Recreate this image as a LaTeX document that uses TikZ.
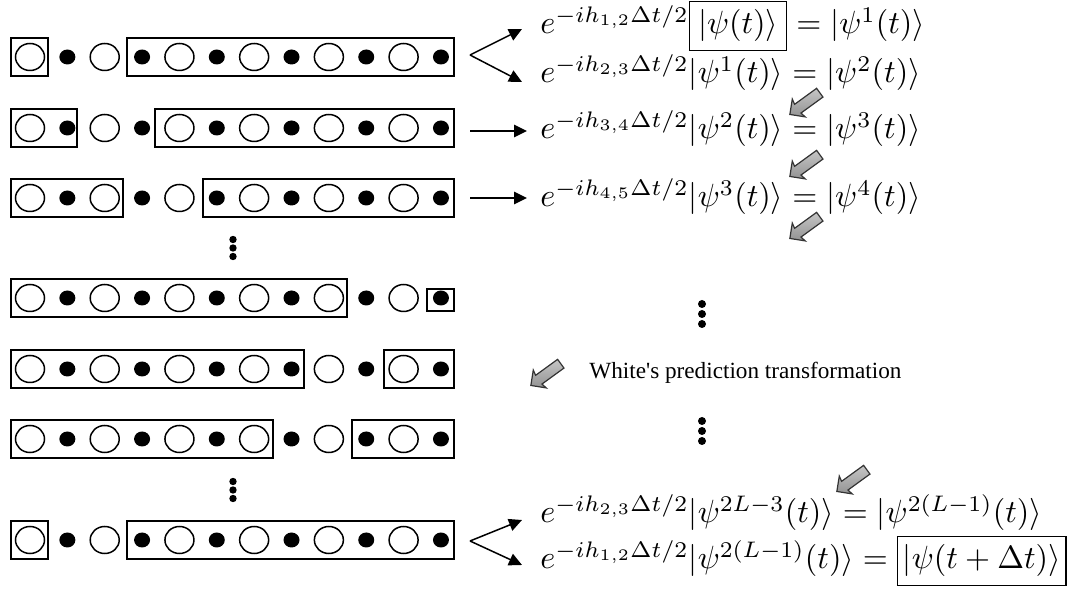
\documentclass[tikz,border=0pt]{standalone}
\usepackage[no-math]{fontspec}
\usepackage{graphicx}
\usetikzlibrary{shapes.geometric,shapes.arrows,arrows.meta}
\newfontfamily\tnr{Liberation Serif}[Ligatures=TeXOff]
\setlength{\fboxsep}{2.4pt}
\setlength{\fboxrule}{0.48pt}
\newcommand{\eqsc}[1]{\scalebox{1.607}{#1}}
\tikzset{
  site/.style={draw, ellipse, inner sep=0pt, minimum width=14.5pt, minimum height=13.5pt, line width=0.75pt},
  spin/.style={fill, ellipse, inner sep=0pt, minimum width=8pt, minimum height=7.5pt},
  grp/.style={draw, line width=0.8pt},
  eq/.style={anchor=base west, inner sep=0pt, font=\fontsize{10}{12}\selectfont},
  conn/.style={line width=0.75pt, -{Triangle[length=6.5pt,width=6.2pt]}},
  garrow/.style={single arrow, draw=black!80, top color=gray!45, bottom color=gray!85, line width=0.6pt,
    inner xsep=0pt, inner ysep=2.4pt, minimum height=18.5pt, single arrow head extend=2.8pt,
    single arrow head indent=0.6pt, rotate=216},
}
\begin{document}
\begin{tikzpicture}[x=0.5pt,y=-0.5pt]
\useasboundingbox (0,0) rectangle (1071,592);
% chains of sites
\foreach \r/\y in {1/57,2/128,3/198,4/298,5/369,6/439,7/540}{
  \foreach \j in {0,...,11}{
    \pgfmathsetmacro\x{30+37.36*\j}
    \ifodd\j
      \node[spin] (s\r-\j) at (\x,\y) {};
    \else
      \node[site] (s\r-\j) at (\x,\y) {};
    \fi
  }
}
% group boxes
\foreach \y/\a/\b in {57/11/48, 57/127/454, 128/11/77, 128/155/454, 198/11/123, 198/203/454,
  298/11/347, 369/11/304, 369/384/454, 439/11/273, 439/352/454, 540/11/48, 540/127/454}
  \draw[grp] (\a,\y-19) rectangle (\b,\y+19);
\draw[grp] (427,289) rectangle (454,311);
% vertical ellipses
\foreach \x/\y in {233/248, 233/490}
  \foreach \d in {-8.5,0,8.5} \fill (\x,\y+\d) circle (1.85pt);
\foreach \x/\y in {702/314, 702/431}
  \foreach \d in {-10,0,10} \fill (\x,\y+\d) circle (2pt);
% equations
\node[eq] (q1) at (540,34) {\eqsc{$e^{-ih_{1,2}\Delta t/2}\fbox{$|\psi(t)\rangle$} = |\psi^1(t)\rangle$}};
\node[eq] (q2) at (540,83) {\eqsc{$e^{-ih_{2,3}\Delta t/2}|\psi^1(t)\rangle = |\psi^2(t)\rangle$}};
\node[eq] (q3) at (540,139) {\eqsc{$e^{-ih_{3,4}\Delta t/2}|\psi^2(t)\rangle = |\psi^3(t)\rangle$}};
\node[eq] (q4) at (540,207) {\eqsc{$e^{-ih_{4,5}\Delta t/2}|\psi^3(t)\rangle = |\psi^4(t)\rangle$}};
\node[eq] (q5) at (540,523) {\eqsc{$e^{-ih_{2,3}\Delta t/2}|\psi^{2L-3}(t)\rangle = |\psi^{2(L-1)}(t)\rangle$}};
\node[eq] (q6) at (540,569) {\eqsc{$e^{-ih_{1,2}\Delta t/2}|\psi^{2(L-1)}(t)\rangle = \fbox{\kern-1pt$|\psi(t+\Delta t)\rangle$\kern-1pt}$}};
\node[anchor=base west, inner sep=0pt, font=\tnr\fontsize{11.6}{14}\selectfont] (wp) at (589,379) {White's prediction transformation};
% gray arrows
\node[garrow] (g1) at (807,102) {};
\node[garrow] (g2) at (807,164) {};
\node[garrow] (g3) at (807,226) {};
\node[garrow] (g4) at (548,373) {};
\node[garrow] (g5) at (854,479) {};
% black connectors
\coordinate (f1) at (470,55);
\coordinate (t1a) at (522,29);
\coordinate (t1b) at (522,82);
\draw[conn] (f1) -- (t1a);
\draw[conn] (f1) -- (t1b);
\coordinate (a2) at (470,131);
\coordinate (b2) at (527,131);
\draw[conn] (a2) -- (b2);
\coordinate (a3) at (470,198);
\coordinate (b3) at (527,198);
\draw[conn] (a3) -- (b3);
\coordinate (f7) at (470,541);
\coordinate (t7a) at (522,520);
\coordinate (t7b) at (522,565);
\draw[conn] (f7) -- (t7a);
\draw[conn] (f7) -- (t7b);
\end{tikzpicture}
\end{document}
